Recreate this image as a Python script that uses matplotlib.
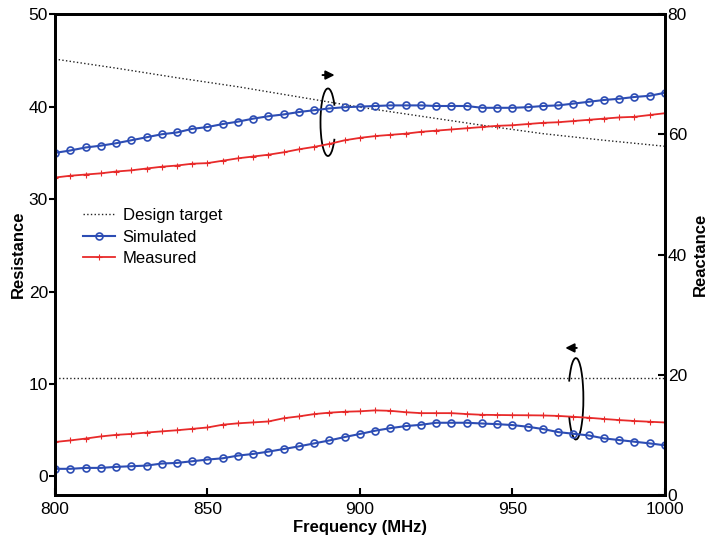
#Resistance / reactance of the tag antenna vs frequency
import matplotlib.pyplot as plt
import numpy as np
from matplotlib.patches import Arc

plt.rcParams['font.family'] = ['Liberation Sans', 'DejaVu Sans']

#frequency grid (MHz)
freq = np.arange(800, 1001, 5)
freq_target = np.arange(800, 1001, 20)

#design target
target_res = [10.7] * len(freq_target)
target_reac = [72.5, 71.0, 69.4, 67.9, 66.2, 64.5, 63.0, 61.5, 60.1, 59.0, 58.0]

#simulated
sim_res = [0.83, 0.83, 0.93, 0.93, 1.04, 1.11, 1.18, 1.40, 1.47, 1.65, 1.83,
           1.97, 2.26, 2.44, 2.69, 2.97, 3.26, 3.58, 3.90, 4.27, 4.60,
           4.95, 5.23, 5.45, 5.59, 5.81, 5.81, 5.81, 5.73, 5.66, 5.56,
           5.38, 5.13, 4.80, 4.62, 4.44, 4.12, 3.94, 3.76, 3.58, 3.37]
sim_reac = [56.9, 57.3, 57.8, 58.1, 58.5, 59.0, 59.5, 60.0, 60.3, 60.9, 61.2,
            61.7, 62.1, 62.6, 63.0, 63.3, 63.7, 64.0, 64.3, 64.5, 64.6,
            64.7, 64.8, 64.8, 64.8, 64.7, 64.7, 64.7, 64.4, 64.4, 64.4,
            64.5, 64.7, 64.8, 65.1, 65.4, 65.7, 65.9, 66.2, 66.4, 66.9]

#measured
meas_res = [3.73, 3.90, 4.10, 4.33, 4.50, 4.60, 4.75, 4.88, 5.00, 5.15, 5.30,
            5.60, 5.75, 5.85, 5.95, 6.30, 6.50, 6.75, 6.90, 7.00, 7.05,
            7.15, 7.10, 6.95, 6.85, 6.85, 6.85, 6.75, 6.67, 6.65, 6.63,
            6.62, 6.60, 6.55, 6.45, 6.35, 6.22, 6.10, 6.00, 5.92, 5.84]
meas_reac = [52.8, 53.1, 53.3, 53.5, 53.8, 54.0, 54.3, 54.6, 54.8, 55.1, 55.2,
             55.6, 56.0, 56.3, 56.6, 57.0, 57.5, 57.9, 58.4, 59.0, 59.4,
             59.7, 59.9, 60.1, 60.4, 60.6, 60.8, 61.0, 61.2, 61.4, 61.5,
             61.7, 61.9, 62.0, 62.2, 62.4, 62.6, 62.8, 62.9, 63.2, 63.5]

blue = '#2d4db4'
red = '#e82a2a'

fig = plt.figure(figsize=(7.08, 5.43), dpi=100)
ax = fig.add_axes([0.0777, 0.0884, 0.8615, 0.8858])
ax2 = ax.twinx()

l1, = ax.plot(freq_target, target_res, ':', color='#222222', lw=1.0, label='Design target')
l2, = ax.plot(freq, sim_res, '-o', color=blue, lw=1.5, ms=5, mfc='none', mew=1.2,
              label='Simulated')
l3, = ax.plot(freq, meas_res, '-+', color=red, lw=1.3, ms=4, mew=0.8, label='Measured')

ax2.plot(freq_target, target_reac, ':', color='#222222', lw=1.0)
ax2.plot(freq, sim_reac, '-o', color=blue, lw=1.5, ms=5, mfc='none', mew=1.2)
ax2.plot(freq, meas_reac, '-+', color=red, lw=1.3, ms=4, mew=0.8)

ax.set_xlim(800, 1000)
ax.set_ylim(-2, 50)
ax2.set_ylim(0, 80)
ax.set_xticks([800, 850, 900, 950, 1000])
ax.set_yticks([0, 10, 20, 30, 40, 50])
ax2.set_yticks([0, 20, 40, 60, 80])

ax.set_xlabel('Frequency (MHz)', fontsize=12, fontweight='bold', labelpad=2)
ax.set_ylabel('Resistance', fontsize=12, fontweight='bold', labelpad=2)
ax2.set_ylabel('Reactance', fontsize=12, fontweight='bold', labelpad=4)

ax.tick_params(axis='x', direction='in', length=5, width=1.5, labelsize=12.5, pad=5)
ax.tick_params(axis='y', direction='out', length=4, width=1.5, labelsize=12.5, pad=1)
ax2.tick_params(axis='y', direction='in', length=5, width=1.5, labelsize=12.5, pad=2)
for a in (ax, ax2):
    for s in a.spines.values():
        s.set_linewidth(2)

ax.legend(handles=[l1, l2, l3], loc='upper left', bbox_to_anchor=(0.022, 0.628),
          frameon=False, fontsize=12, handlelength=1.9, handletextpad=0.45,
          labelspacing=0.4, numpoints=1)

#rotation arrows: upper curves -> right axis, lower curves -> left axis
ax.add_patch(Arc((889.5, 38.3), 4.9, 7.3, theta1=40, theta2=320, color='k', lw=1.3))
ax.annotate('', xy=(892.6, 43.4), xytext=(886.8, 43.4),
            arrowprops=dict(arrowstyle='-|>', color='k', lw=1.4, mutation_scale=13))
ax.add_patch(Arc((970.8, 8.4), 4.9, 8.8, theta1=-140, theta2=140, color='k', lw=1.3))
ax.annotate('', xy=(966.4, 13.9), xytext=(972.0, 13.9),
            arrowprops=dict(arrowstyle='-|>', color='k', lw=1.4, mutation_scale=13))

plt.savefig('out.png', dpi=100)
